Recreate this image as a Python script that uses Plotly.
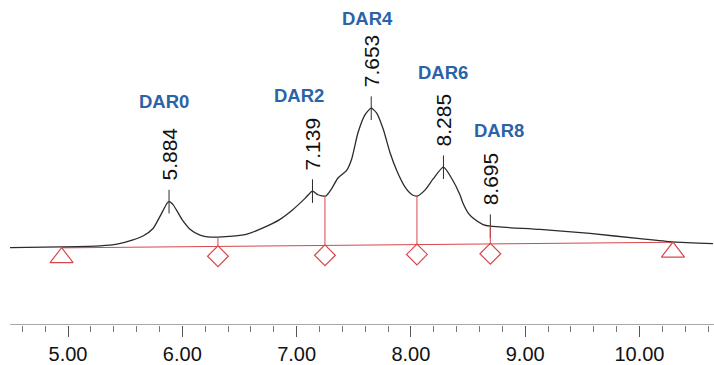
import numpy as np
import plotly.graph_objects as go

# Chromatogram trace (retention time, min) and signal (arbitrary units)
time = [4.493, 4.939, 5.280, 5.429, 5.569, 5.656, 5.744, 5.805, 5.866, 5.884, 5.919,
        5.997, 6.067, 6.155, 6.242, 6.312, 6.444, 6.566, 6.706, 6.855, 6.969, 7.074,
        7.139, 7.187, 7.255, 7.307, 7.362, 7.438, 7.482, 7.537, 7.598, 7.653, 7.701,
        7.759, 7.817, 7.876, 7.948, 8.007, 8.056, 8.123, 8.196, 8.285, 8.360, 8.430,
        8.456, 8.502, 8.543, 8.631, 8.695, 9.130, 9.567, 10.004, 10.293, 10.643]
signal = [78.3, 79.0, 80.0, 81.7, 86.0, 90.0, 97.7, 110.0, 123.3, 125.0, 122.0,
          107.0, 97.0, 91.0, 89.0, 89.0, 90.0, 92.0, 98.3, 107.0, 117.0, 128.3,
          135.7, 132.0, 130.7, 138.3, 149.0, 156.7, 168.3, 195.0, 213.3, 220.0, 215.0,
          198.3, 175.0, 156.7, 140.0, 132.3, 130.7, 136.7, 148.3, 160.0, 148.0, 131.7,
          123.3, 113.3, 108.3, 101.7, 100.0, 96.7, 92.7, 87.3, 84.0, 82.3]

# Integration baseline end points (triangles) and drop lines (diamonds)
base_t = [4.944, 10.293]
base_v = [78.0, 83.7]
drop_t = [6.312, 7.248, 8.053, 8.695]

# Peak retention times
peak_t = [5.884, 7.139, 7.653, 8.285, 8.695]
peak_labels = ["5.884", "7.139", "7.653", "8.285", "8.695"]

# Species labels
dar_names = ["DAR0", "DAR2", "DAR4", "DAR6", "DAR8"]
dar_t = [5.840, 7.025, 7.620, 8.281, 8.771]
dar_v = [226.5, 233.0, 311.5, 256.0, 197.5]

# x-axis ticks
tick_vals = [5, 6, 7, 8, 9, 10]
tick_text = ["5.00", "6.00", "7.00", "8.00", "9.00", "10.00"]

RED = "#D9474C"
BLUE = "#2A64A8"
BLACK = "#2b2b2b"

def curve_at(t):
    return float(np.interp(t, time, signal))

def base_at(t):
    return float(np.interp(t, base_t, base_v))

fig = go.Figure()

# baseline (red)
fig.add_trace(go.Scatter(x=base_t, y=base_v, mode="lines",
                         line=dict(color=RED, width=1), hoverinfo="skip"))

# peak tick marks (black)
tx, ty = [], []
for t in peak_t:
    v = curve_at(t)
    tx += [t, t, None]
    ty += [v + 12, v - 12, None]
fig.add_trace(go.Scatter(x=tx, y=ty, mode="lines",
                         line=dict(color=BLACK, width=1), hoverinfo="skip"))

# chromatogram
fig.add_trace(go.Scatter(x=time, y=signal, mode="lines",
                         line=dict(color=BLACK, width=1.3, shape="spline", smoothing=0.6),
                         hoverinfo="skip"))

# drop lines (red)
dx, dy = [], []
for t in drop_t:
    dx += [t, t, None]
    dy += [base_at(t), curve_at(t), None]
fig.add_trace(go.Scatter(x=dx, y=dy, mode="lines",
                         line=dict(color=RED, width=1), hoverinfo="skip"))

# triangle markers (apex on baseline)
fig.add_trace(go.Scatter(x=base_t, y=[v - 10 for v in base_v], mode="markers",
                         marker=dict(symbol="triangle-up-open", size=20,
                                     line=dict(color=RED, width=1.2), color=RED),
                         hoverinfo="skip"))
# diamond markers (top vertex on baseline)
fig.add_trace(go.Scatter(x=drop_t, y=[base_at(t) - 10 for t in drop_t], mode="markers",
                         marker=dict(symbol="diamond-open", size=16,
                                     line=dict(color=RED, width=1.2), color=RED),
                         hoverinfo="skip"))

annotations = []
for t, lab in zip(peak_t, peak_labels):
    annotations.append(dict(x=t, y=curve_at(t) + 20, text=lab, textangle=-90,
                            xanchor="center", yanchor="bottom", showarrow=False,
                            borderpad=0,
                            font=dict(family="Liberation Sans, Arial", size=21, color="#111111")))
for name, t, v in zip(dar_names, dar_t, dar_v):
    annotations.append(dict(x=t, y=v, text="<b>" + name + "</b>", xanchor="center",
                            yanchor="middle", showarrow=False,
                            font=dict(family="Liberation Sans, Arial", size=18.5, color=BLUE)))

# axis line starting slightly in from the left edge
shapes = [dict(type="line", xref="x", yref="y", x0=4.493, x1=10.66, y0=0, y1=0,
               line=dict(color="#555555", width=1.3))]

fig.update_layout(
    width=714, height=365,
    margin=dict(l=0, r=0, t=0, b=0),
    paper_bgcolor="white", plot_bgcolor="white",
    showlegend=False,
    annotations=annotations,
    shapes=shapes,
    xaxis=dict(range=[4.405, 10.652], showgrid=False, zeroline=False,
               showline=False, tickmode="array", tickvals=tick_vals, ticktext=tick_text,
               ticks="outside", ticklen=11, tickwidth=1.2, tickcolor="#555555",
               tickfont=dict(family="Liberation Sans, Arial", size=20, color="#111111"),
               minor=dict(dtick=0.2, tick0=5, ticks="outside", ticklen=6,
                          tickwidth=1, tickcolor="#777777", showgrid=False),
               fixedrange=True),
    yaxis=dict(range=[0, 330], domain=[(365 - 330) / 365, 1], visible=False,
               showgrid=False, zeroline=False, fixedrange=True),
)

fig.write_html("out.html")
